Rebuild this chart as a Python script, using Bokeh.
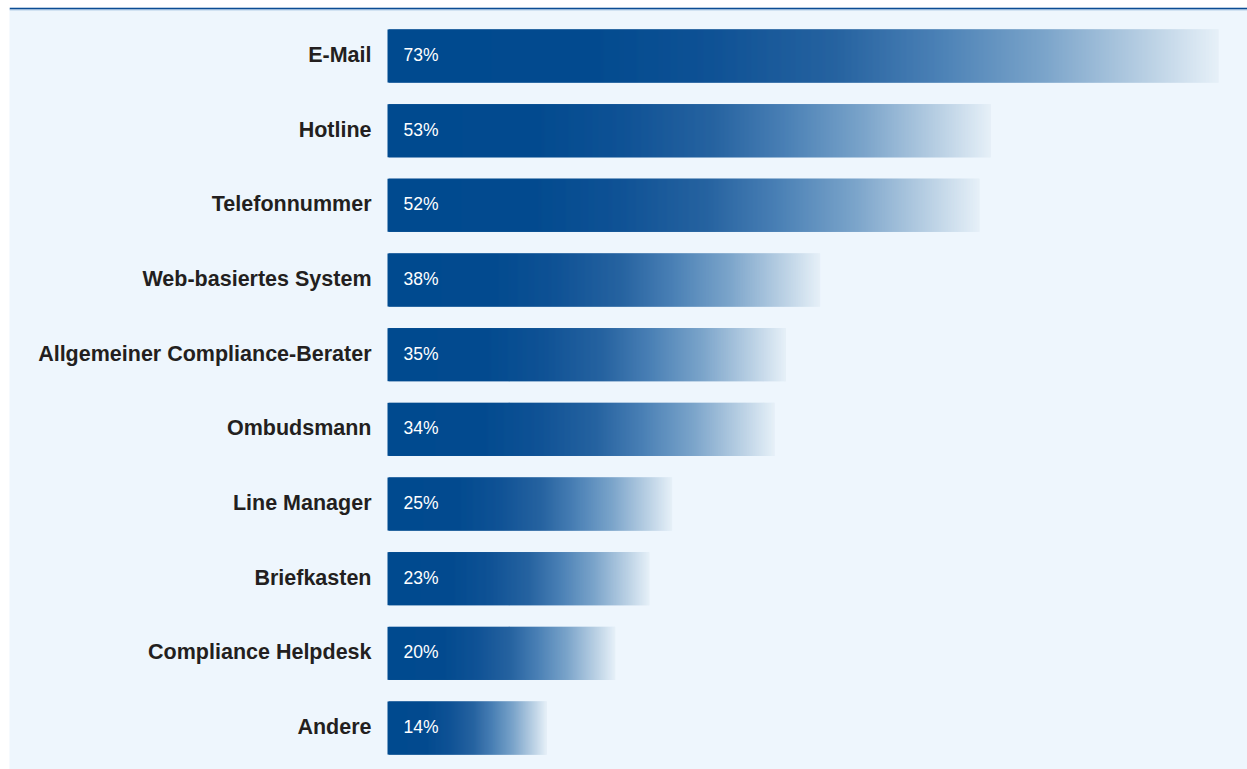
import math
from bokeh.plotting import figure
from bokeh.models import Range1d, BoxAnnotation, ColumnDataSource
from bokeh.core.properties import value
from bokeh.embed import file_html
from bokeh.resources import INLINE

# ---- data ----
categories = ["E-Mail", "Hotline", "Telefonnummer", "Web-basiertes System",
              "Allgemeiner Compliance-Berater", "Ombudsmann", "Line Manager",
              "Briefkasten", "Compliance Helpdesk", "Andere"]
values = [73, 53, 52, 38, 35, 34, 25, 23, 20, 14]
value_labels = ["73%", "53%", "52%", "38%", "35%", "34%", "25%", "23%", "20%", "14%"]

# ---- style / layout ----
W, H = 1247, 769
LEFT_MARGIN, TOP_MARGIN = 9, 7
BAR_X0 = 387            # pixel where value 0 sits
PX_PER_UNIT = 11.384    # pixels per percent
ROW0_Y = 55.5           # pixel centre of first row
ROW_STEP = 74.67        # pixels between rows
BAR_H = 53 / ROW_STEP
BG = "#eef6fd"
DARK = "#0b4c93"
LIGHT_LINE = "#b3cde8"
TEXT = "#231f20"
FONT = "Liberation Sans"

grad_stops = [(0.0, "#004a8f"), (0.25, "#034b8f"), (0.39, "#0f5295"),
              (0.54, "#2663a0"), (0.66, "#4a80b5"), (0.79, "#7ba4ca"),
              (0.92, "#bcd2e5"), (1.0, "#e6f0f8")]


def hex2rgb(h):
    h = h.lstrip("#")
    return tuple(int(h[i:i + 2], 16) for i in (0, 2, 4))


def grad_color(f):
    for (f0, c0), (f1, c1) in zip(grad_stops[:-1], grad_stops[1:]):
        if f0 <= f <= f1:
            t = (f - f0) / (f1 - f0) if f1 > f0 else 0
            a, b = hex2rgb(c0), hex2rgb(c1)
            return "#%02x%02x%02x" % tuple(round(a[i] + (b[i] - a[i]) * t) for i in range(3))
    return grad_stops[-1][1]


x_start = -(BAR_X0 - LEFT_MARGIN) / PX_PER_UNIT
x_end = (W - BAR_X0) / PX_PER_UNIT
y_top = (TOP_MARGIN - ROW0_Y) / ROW_STEP
y_bottom = (H - ROW0_Y) / ROW_STEP

p = figure(width=W, height=H, output_backend="svg", toolbar_location=None,
           x_range=Range1d(x_start, x_end), y_range=Range1d(y_bottom, y_top),
           x_axis_location=None, y_axis_location=None,
           min_border_left=LEFT_MARGIN, min_border_top=TOP_MARGIN,
           min_border_right=0, min_border_bottom=0)
p.grid.visible = False
p.outline_line_color = None
p.border_fill_color = "white"
p.background_fill_color = BG

# top rule lines
p.add_layout(BoxAnnotation(top=y_top, bottom=(TOP_MARGIN + 2 - ROW0_Y) / ROW_STEP,
                           fill_color=DARK, fill_alpha=1, line_color=None))
p.add_layout(BoxAnnotation(top=(TOP_MARGIN + 2 - ROW0_Y) / ROW_STEP,
                           bottom=(TOP_MARGIN + 3 - ROW0_Y) / ROW_STEP,
                           fill_color=LIGHT_LINE, fill_alpha=1, line_color=None))

# gradient bars: a solid base bar, then overlapping 2px slices with the gradient
SLICE = 2.5 / PX_PER_UNIT
step = 1 / PX_PER_UNIT
ys, lefts, rights, colors = [], [], [], []
for i, v in enumerate(values):
    n = math.ceil(v * PX_PER_UNIT)
    for k in range(n):
        ys.append(i)
        lefts.append(k * step)
        rights.append(min(k * step + SLICE, v))
        colors.append(grad_color(min((k + 0.5) / (v * PX_PER_UNIT), 1.0)))
p.hbar(y=ys, left=lefts, right=rights, height=BAR_H, fill_color=colors, line_color=None)

idx = list(range(len(categories)))
src = ColumnDataSource(dict(y=idx, x=[0] * len(idx), cat=categories, lab=value_labels))
p.text(x="x", y="y", text="cat", source=src, x_offset=-16, y_offset=-1, text_align="right",
       text_baseline="middle", text_font=value(FONT), text_font_style="bold",
       text_font_size="21.5px", text_color=TEXT)
p.text(x="x", y="y", text="lab", source=src, x_offset=16, y_offset=-1, text_align="left",
       text_baseline="middle", text_font=value(FONT), text_font_size="17.5px",
       text_color="white")

open("out.html", "w").write(file_html(p, INLINE))
